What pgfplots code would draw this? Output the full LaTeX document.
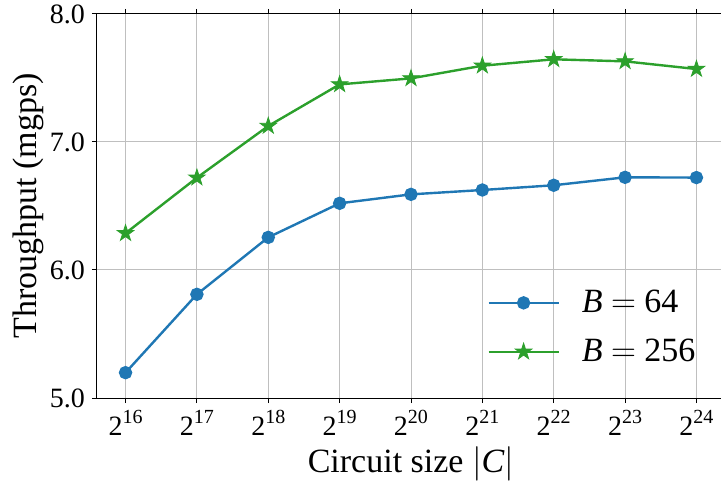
\documentclass[border=0pt]{standalone}
\usepackage{fontspec}
\setmainfont{Liberation Serif}
\usepackage{pgfplots}
\pgfplotsset{compat=1.18}

\definecolor{mplblue}{HTML}{1F77B4}
\definecolor{mplgreen}{HTML}{2CA02C}

% filled five-point star, like matplotlib's '*'
\pgfdeclareplotmark{fstar}{%
  \pgfpathmoveto{\pgfpointpolar{90}{\pgfplotmarksize}}%
  \foreach \a in {1,...,9}{%
    \pgfmathsetmacro\ang{90+36*\a}%
    \ifodd\a
      \pgfpathlineto{\pgfpointpolar{\ang}{0.382\pgfplotmarksize}}%
    \else
      \pgfpathlineto{\pgfpointpolar{\ang}{\pgfplotmarksize}}%
    \fi
  }%
  \pgfpathclose
  \pgfusepathqfillstroke
}

\newcommand{\tickfont}{\fontsize{14}{16.8}\selectfont}
\newcommand{\labfont}{\fontsize{17}{20}\selectfont}

\begin{document}
\begin{tikzpicture}
\begin{axis}[
    scale only axis,
    width=314pt, height=192pt,
    xmin=15.6, xmax=24.4,
    ymin=5, ymax=8,
    xtick={16,...,24},
    ytick={5,6,7,8},
    xticklabel={\textrm{2\raisebox{0.42em}{\fontsize{10}{10}\selectfont\pgfmathprintnumber[int detect,assume math mode=true]{\tick}}}},
    yticklabel={\textrm{\pgfmathprintnumber[fixed,fixed zerofill,precision=1,assume math mode=true]{\tick}}},
    tick align=outside,
    major tick length=2.5pt,
    tick style={black, line width=0.5pt},
    axis line style={line width=0.5pt},
    grid=major,
    major grid style={color=black!25, line width=0.5pt},
    xlabel={Circuit size $|$\textit{C}$|$},
    ylabel={Throughput (mgps)},
    label style={font=\labfont},
    tick label style={font=\tickfont},
    xlabel style={yshift=1pt},
    ylabel style={yshift=-4pt},
    legend style={draw=none, fill=none, at={(rel axis cs:0.621,0.282)}, anchor=north west,
        font=\labfont, row sep=11.7pt, column sep=11pt, inner sep=0pt,
        nodes={inner sep=0pt}},
    legend cell align=left,
    legend image code/.code={
        \draw[mark repeat=2, mark phase=2, #1] plot coordinates {(0pt,0pt) (17.5pt,0pt) (35pt,0pt)};
    },
]
\addplot[color=mplblue, line width=1.2pt, mark=*, mark size=2.75pt, mark options={fill=mplblue}] coordinates {
    (16,5.198) (17,5.81) (18,6.255) (19,6.521) (20,6.591)
    (21,6.625) (22,6.662) (23,6.724) (24,6.722)
};
\addlegendentry{\textit{B} $=$ 64}
\addplot[color=mplgreen, line width=1.2pt, mark=fstar, mark size=4.3pt, mark options={fill=mplgreen, line width=0.4pt}] coordinates {
    (16,6.287) (17,6.721) (18,7.125) (19,7.45) (20,7.497)
    (21,7.596) (22,7.646) (23,7.63) (24,7.57)
};
\addlegendentry{\textit{B} $=$ 256}
\end{axis}
\pgfresetboundingbox
\path[use as bounding box] ([shift={(-48.5pt,-41.5pt)}]current axis.south west)
    rectangle ([shift={(-2pt,7pt)}]current axis.north east);
\end{tikzpicture}
\end{document}
